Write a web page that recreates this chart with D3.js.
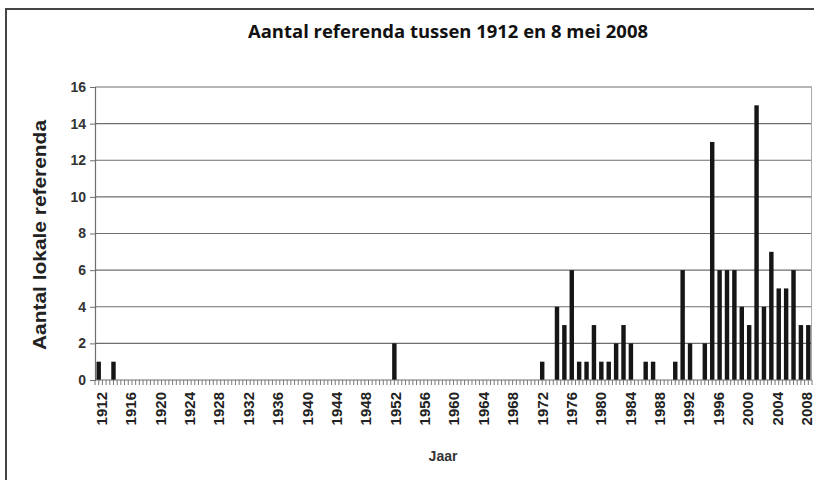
<!DOCTYPE html>
<html>
<head>
<meta charset="utf-8">
<script src="https://cdn.jsdelivr.net/npm/d3@7"></script>
<style>
  html, body { margin: 0; padding: 0; background: #fff; }
  svg { display: block; }
</style>
</head>
<body>
<svg id="chart" width="814" height="480"></svg>
<script>
// ---- data ----
const years = d3.range(1912, 2009);
const values = [
  1,0,1,0,0,0,0,0,0,0,      // 1912-1921
  0,0,0,0,0,0,0,0,0,0,      // 1922-1931
  0,0,0,0,0,0,0,0,0,0,      // 1932-1941
  0,0,0,0,0,0,0,0,0,0,      // 1942-1951
  2,0,0,0,0,0,0,0,0,0,      // 1952-1961
  0,0,0,0,0,0,0,0,0,0,      // 1962-1971
  1,0,4,3,6,1,1,3,1,1,      // 1972-1981
  2,3,2,0,1,1,0,0,1,6,      // 1982-1991
  2,0,2,13,6,6,6,4,3,15,    // 1992-2001
  4,7,5,5,6,3,3             // 2002-2008
];
const xTickLabels = ["1912","1916","1920","1924","1928","1932","1936","1940","1944","1948",
  "1952","1956","1960","1964","1968","1972","1976","1980","1984","1988","1992","1996",
  "2000","2004","2008"];
const yTicks = [0,2,4,6,8,10,12,14,16];
const title = "Aantal referenda tussen 1912 en 8 mei 2008";
const yTitle = "Aantal lokale referenda";
const xTitle = "Jaar";

// ---- layout ----
const svg = d3.select("#chart");
const x0 = 95, x1 = 812, yTop = 87, yBase = 380;
const sans = "'Liberation Sans', Arial, sans-serif";

const x = d3.scaleBand().domain(years).range([x0, x1]).paddingInner(0.4).paddingOuter(0.2);
const y = d3.scaleLinear().domain([0, 16]).range([yBase, yTop]);
// label positions (labels are spaced slightly tighter than the bars in the original)
const xLab = d3.scaleLinear().domain([1912, 2008]).range([101.5, 806.5]);

// outer frame
svg.append("rect").attr("x", 6).attr("y", 9).attr("width", 830).attr("height", 490)
  .attr("fill", "none").attr("stroke", "#444").attr("stroke-width", 2);

// title
svg.append("text").attr("x", 448).attr("y", 38).attr("text-anchor", "middle")
  .style("font-family", "'Open Sans', sans-serif").style("font-weight", "bold")
  .style("font-size", "17px").attr("fill", "#111")
  .attr("textLength", 400).attr("lengthAdjust", "spacingAndGlyphs").text(title);

// gridlines
svg.append("g").selectAll("line").data(yTicks.filter(d => d > 0)).join("line")
  .attr("x1", x0).attr("x2", x1).attr("y1", d => y(d)).attr("y2", d => y(d))
  .attr("stroke", "#6e6e6e").attr("stroke-width", 1.2);

// right plot edge
svg.append("line").attr("x1", x1 - 0.5).attr("x2", x1 - 0.5).attr("y1", y(16)).attr("y2", yBase)
  .attr("stroke", "#aaa").attr("stroke-width", 1);

// bars
svg.append("g").selectAll("rect").data(years.map((yr, i) => ({yr, v: values[i]})).filter(d => d.v > 0))
  .join("rect")
  .attr("x", d => x(d.yr)).attr("width", x.bandwidth())
  .attr("y", d => y(d.v)).attr("height", d => y(0) - y(d.v))
  .attr("fill", "#161616");

// y axis
const yAxis = d3.axisLeft(y).tickValues(yTicks).tickSize(5).tickPadding(4).tickFormat(d3.format("d"));
const gy = svg.append("g").attr("transform", `translate(${x0},0)`).call(yAxis);
gy.attr("font-family", null).attr("font-size", null);
gy.select(".domain").attr("stroke", "#6e6e6e").attr("stroke-width", 1.2);
gy.selectAll(".tick line").attr("stroke", "#6e6e6e");
gy.selectAll(".tick text").style("font-family", sans)
  .style("font-weight", "bold").style("font-size", "14px").attr("fill", "#333");

// x axis line
svg.append("line").attr("x1", x0).attr("x2", x1).attr("y1", yBase).attr("y2", yBase)
  .attr("stroke", "#6e6e6e").attr("stroke-width", 1.2);

// x ticks at band boundaries and centres
const step = x.step();
const half = [];
years.forEach(yr => {
  const c = x(yr) + x.bandwidth() / 2;
  half.push(c - step / 2, c);
});
half.push(x(years[years.length - 1]) + x.bandwidth() / 2 + step / 2);
svg.append("g").selectAll("line").data(half).join("line")
  .attr("x1", d => d).attr("x2", d => d).attr("y1", yBase).attr("y2", yBase + 5)
  .attr("stroke", "#777").attr("stroke-width", 1);

// x tick labels
svg.append("g").selectAll("text").data(xTickLabels).join("text")
  .attr("transform", d => `translate(${xLab(+d)},392) rotate(-90)`)
  .attr("text-anchor", "end").attr("dy", "0.36em")
  .style("font-family", sans)
  .style("font-weight", "bold").style("font-size", "15px").attr("fill", "#222")
  .text(d => d);

// axis titles
svg.append("text").attr("transform", "translate(46,235) rotate(-90)").attr("text-anchor", "middle")
  .style("font-family", sans).style("font-weight", "bold")
  .style("font-size", "19px").attr("fill", "#222")
  .attr("textLength", 230).attr("lengthAdjust", "spacingAndGlyphs").text(yTitle);

svg.append("text").attr("x", 443).attr("y", 461).attr("text-anchor", "middle")
  .style("font-family", sans).style("font-weight", "bold")
  .style("font-size", "14px").attr("fill", "#333").text(xTitle);
</script>
</body>
</html>
